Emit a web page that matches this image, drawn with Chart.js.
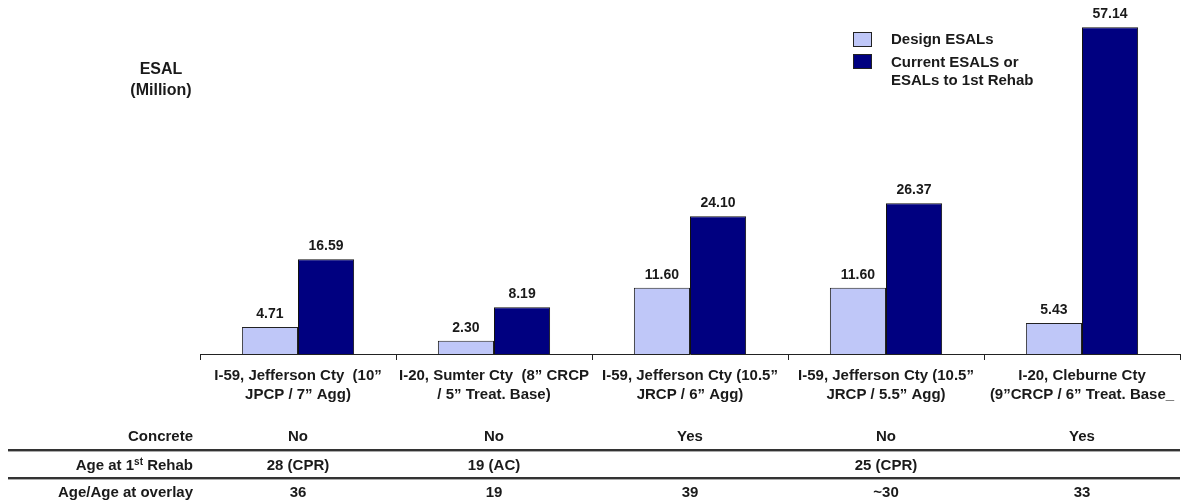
<!DOCTYPE html>
<html>
<head>
<meta charset="utf-8">
<script src="https://cdn.jsdelivr.net/npm/chart.js@4/dist/chart.umd.min.js"></script>
<style>
  html, body { margin: 0; padding: 0; background: #fff; }
  body { width: 1191px; height: 502px; position: relative; overflow: hidden;
         font-family: "Liberation Sans", Arial, sans-serif; font-weight: bold; color: #1a1a1a; }
  #wrap { position: absolute; left: 0; top: 0; width: 1191px; height: 502px; }
  .abs { position: absolute; white-space: nowrap; }
  #ytitle { left: 108px; top: 58px; width: 106px; text-align: center; font-size: 16px; line-height: 21px; }
  .lg-box { position: absolute; width: 17px; height: 13px; border: 1px solid #222; }
  .lg-text { position: absolute; font-size: 15px; line-height: 18px; white-space: nowrap; }
  .row-label { position: absolute; right: calc(1191px - 193px); font-size: 15px; transform: translateY(-50%); white-space: nowrap; }
  .cell { position: absolute; font-size: 15px; transform: translate(-50%, -50%); white-space: nowrap; }
  .rule { position: absolute; left: 8px; width: 1172px; height: 2px; background: #333; box-shadow: 0 1px 0 #aaa; }
  sup { font-size: 10px; vertical-align: 5px; }
</style>
</head>
<body>
<div id="wrap"><canvas id="chart" width="1191" height="502"></canvas></div>
<div id="ytitle" class="abs">ESAL<br>(Million)</div>
<div id="legend"></div>
<div id="table"></div>
<script>
// Road sections (two-line axis labels)
const sections = [
  ["I-59, Jefferson Cty  (10\u201d", "JPCP / 7\u201d Agg)"],
  ["I-20, Sumter Cty  (8\u201d CRCP", "/ 5\u201d Treat. Base)"],
  ["I-59, Jefferson Cty (10.5\u201d", "JRCP / 6\u201d Agg)"],
  ["I-59, Jefferson Cty (10.5\u201d", "JRCP / 5.5\u201d Agg)"],
  ["I-20, Cleburne Cty", "(9\u201dCRCP / 6\u201d Treat. Base_"]
];
const designESALs  = [4.71, 2.30, 11.60, 11.60, 5.43];
const currentESALs = [16.59, 8.19, 24.10, 26.37, 57.14];
const seriesNames = ["Design ESALs", "Current ESALS or\nESALs to 1st Rehab"];

// Table rows below the chart
const rowLabels = ["Concrete", "Age at 1<sup>st</sup> Rehab", "Age/Age at overlay"];
const concreteRow = ["No", "No", "Yes", "No", "Yes"];
const rehabAgeRow = ["28 (CPR)", "19 (AC)", "", "25 (CPR)", ""];
const overlayAgeRow = ["36", "19", "39", "~30", "33"];

const lightFill = "#BFC7F8";
const darkFill = "#000080";

const valueLabels = {
  id: "valueLabels",
  afterDatasetsDraw(chart) {
    const ctx = chart.ctx;
    ctx.save();
    ctx.font = "bold 14px 'Liberation Sans', Arial, sans-serif";
    ctx.fillStyle = "#1a1a1a";
    ctx.textAlign = "center";
    ctx.textBaseline = "alphabetic";
    chart.data.datasets.forEach((ds, i) => {
      chart.getDatasetMeta(i).data.forEach((bar, j) => {
        ctx.fillText(ds.data[j].toFixed(2), bar.x, bar.y - 9);
      });
    });
    ctx.restore();
  }
};

const chart = new Chart(document.getElementById("chart"), {
  type: "bar",
  data: {
    labels: sections,
    datasets: [
      { label: seriesNames[0], data: designESALs, backgroundColor: lightFill, borderColor: "#222", borderWidth: 1 },
      { label: seriesNames[1], data: currentESALs, backgroundColor: darkFill, borderColor: "#111", borderWidth: 1 }
    ]
  },
  options: {
    responsive: false,
    animation: false,
    devicePixelRatio: 1,
    categoryPercentage: 0.5726,
    barPercentage: 1,
    layout: { padding: { left: 200, right: 11, top: 11, bottom: 0 } },
    plugins: { legend: { display: false }, tooltip: { enabled: false } },
    scales: {
      y: { display: false, min: 0, max: 60 },
      x: {
        afterFit(scale) { scale.height = 148; },
        border: { display: true, color: "#222", width: 1 },
        grid: { display: true, drawOnChartArea: false, drawTicks: true, tickLength: 6, color: "#222", offset: true },
        ticks: {
          color: "#1a1a1a",
          padding: 6,
          autoSkip: false,
          maxRotation: 0,
          minRotation: 0,
          font: { family: "'Liberation Sans', Arial, sans-serif", size: 15, weight: "bold", lineHeight: 1.27 }
        }
      }
    }
  },
  plugins: [valueLabels]
});

// Legend
const legend = document.getElementById("legend");
const legendItems = [
  { color: lightFill, top: 32, textTop: 30 },
  { color: darkFill, top: 54, textTop: 53 }
];
legendItems.forEach((it, i) => {
  const b = document.createElement("div");
  b.className = "lg-box";
  b.style.left = "853px"; b.style.top = it.top + "px"; b.style.background = it.color;
  legend.appendChild(b);
  const t = document.createElement("div");
  t.className = "lg-text";
  t.style.left = "891px"; t.style.top = it.textTop + "px";
  t.innerHTML = seriesNames[i].replace("\n", "<br>");
  legend.appendChild(t);
});

// Table under the chart, aligned to category centres
const table = document.getElementById("table");
const rowsY = [435, 464, 491];
const rows = [concreteRow, rehabAgeRow, overlayAgeRow];
const xs = chart.scales.x;
rows.forEach((row, r) => {
  const lab = document.createElement("div");
  lab.className = "row-label";
  lab.style.top = rowsY[r] + "px";
  lab.innerHTML = rowLabels[r];
  table.appendChild(lab);
  row.forEach((v, c) => {
    if (!v) return;
    const d = document.createElement("div");
    d.className = "cell";
    d.style.left = xs.getPixelForValue(c) + "px";
    d.style.top = rowsY[r] + "px";
    d.textContent = v;
    table.appendChild(d);
  });
});
[449, 477].forEach(y => {
  const l = document.createElement("div");
  l.className = "rule";
  l.style.top = y + "px";
  table.appendChild(l);
});
</script>
</body>
</html>
